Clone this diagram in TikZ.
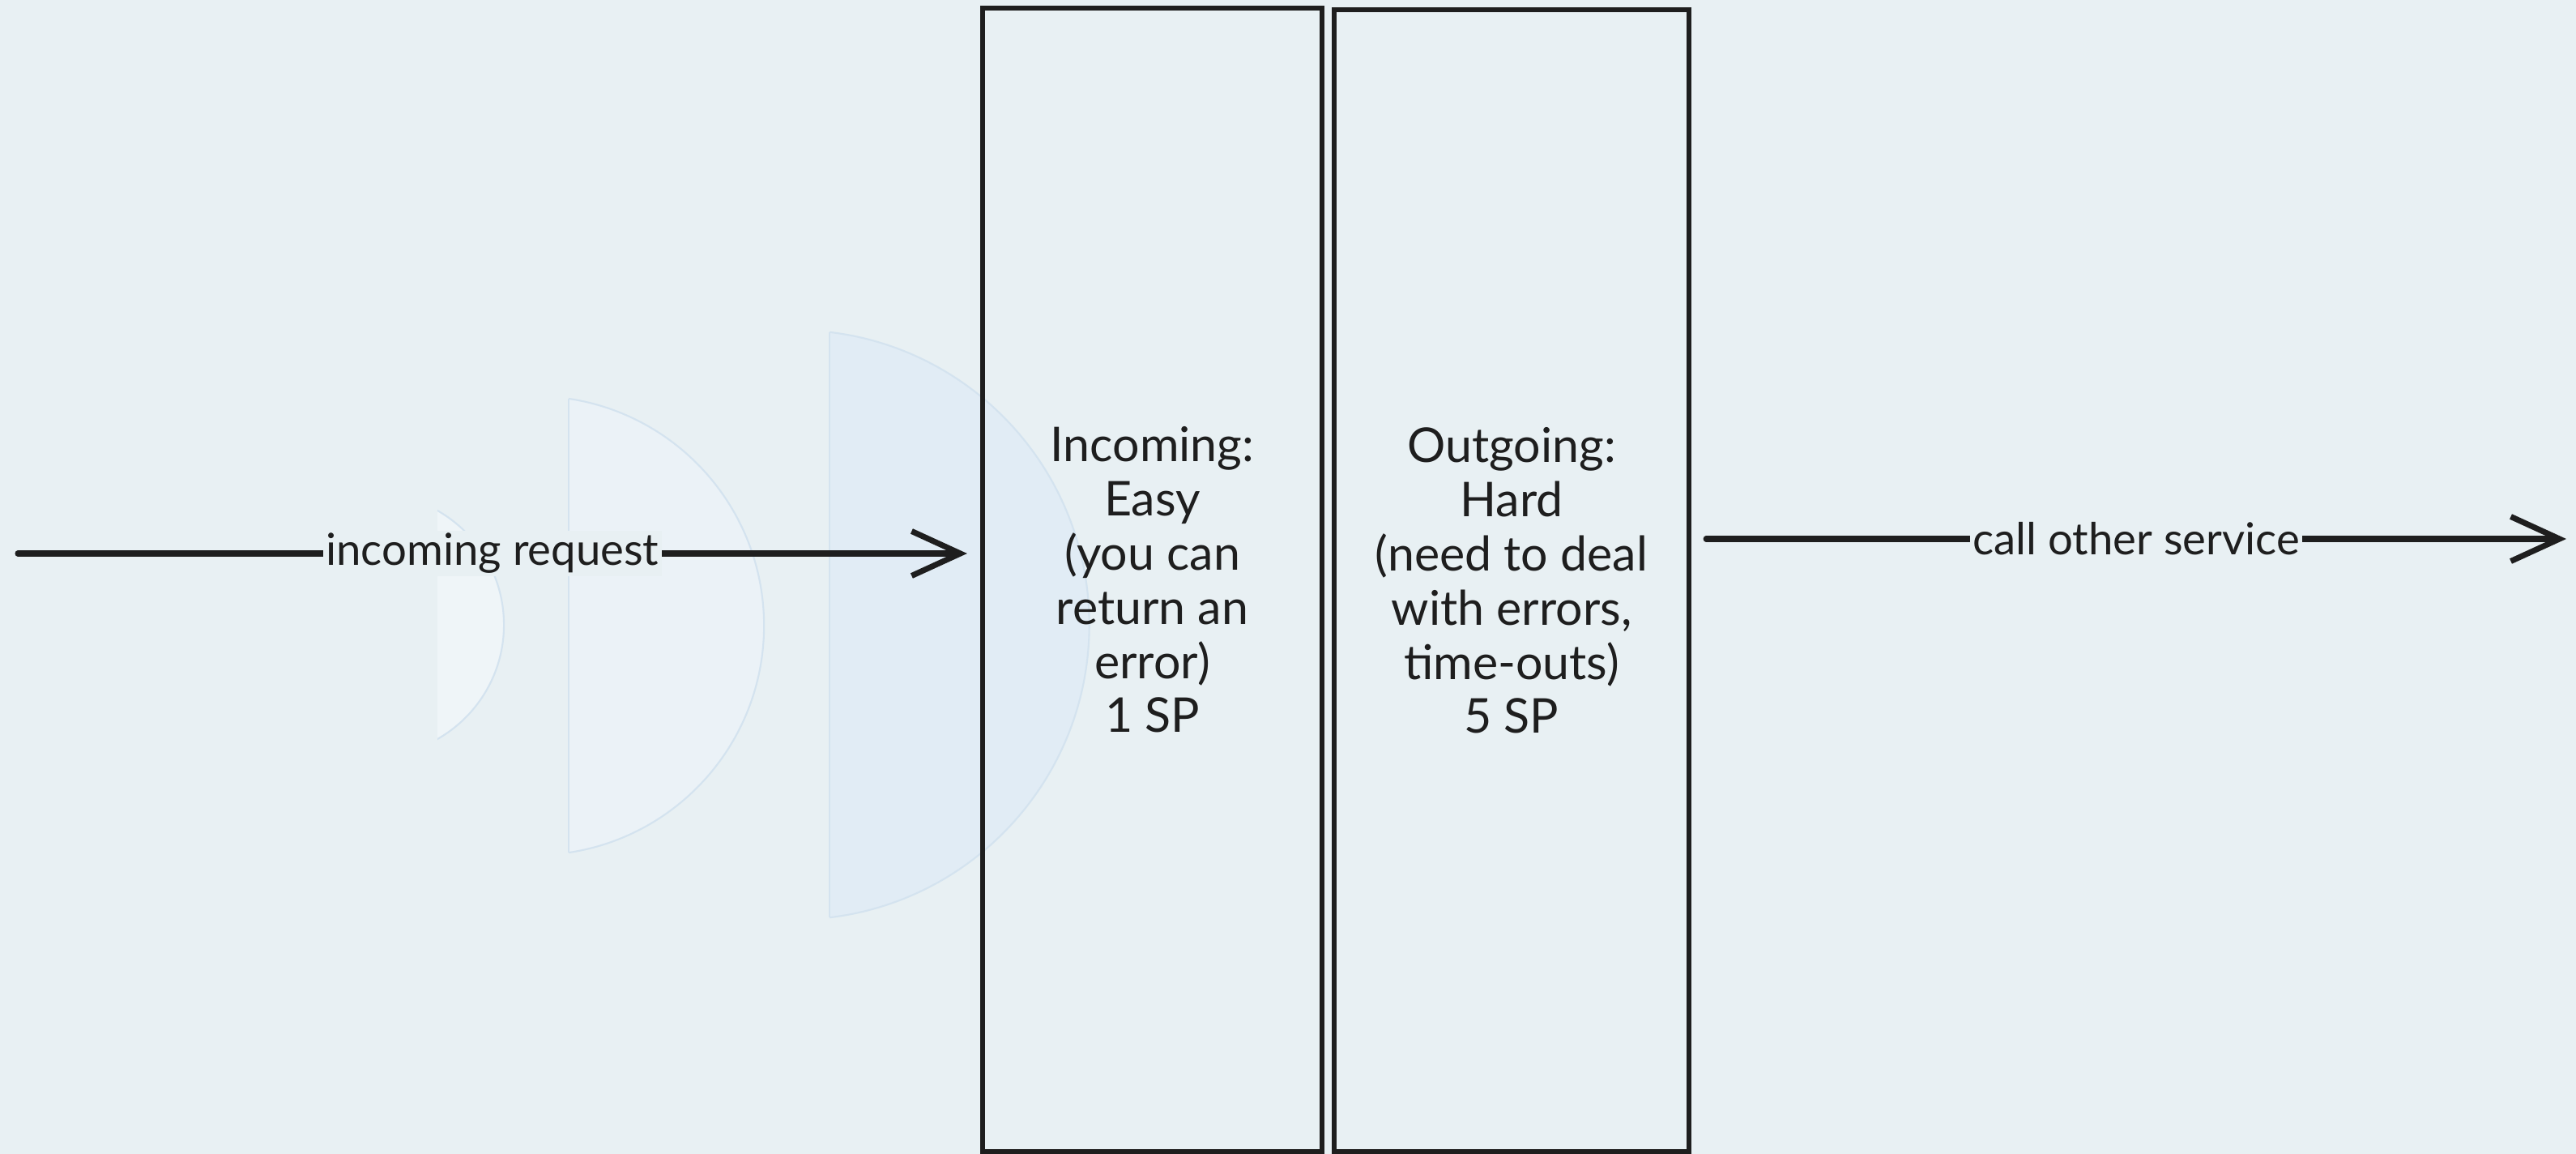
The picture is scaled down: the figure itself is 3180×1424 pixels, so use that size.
\documentclass[tikz,border=0pt]{standalone}
\usepackage{fontspec}
\setmainfont{Lato}
\usetikzlibrary{arrows.meta,calc}
\definecolor{bg}{RGB}{232,240,243}
\definecolor{ink}{RGB}{30,30,30}
\definecolor{bubA}{RGB}{239,245,248}
\definecolor{bubB}{RGB}{235,242,247}
\definecolor{bubC}{RGB}{225,236,245}
\definecolor{bubEdge}{RGB}{212,227,239}
\tikzset{
  txt/.style={font=\fontsize{15.5}{19}\selectfont, text=ink},
  boxtxt/.style={font=\fontsize{16.8}{19}\selectfont, text=ink},
  box/.style={draw=ink, line width=1.7pt, rectangle, inner sep=0pt, align=center, boxtxt},
  conn/.style={draw=ink, line width=2pt, line cap=round,
    -{Straight Barb[length=0.6cm,width=0.55cm,line width=2pt]}},
  lbl/.style={fill=bg, inner sep=1pt, txt},
  bubble/.style={draw=bubEdge, line width=0.6pt}
}
\begin{document}
\begin{tikzpicture}[x=0.01cm,y=-0.01cm]
\fill[bg] (0,0) rectangle (3180,1424);
\useasboundingbox (0,0) rectangle (3180,1424);
% faint half-disc bubbles
\begin{scope}
  \clip (540,600) rectangle (700,950);
  \fill[bubA] (460,771) circle (1.62cm);
  \draw[bubble] (460,771) circle (1.62cm);
\end{scope}
\begin{scope}
  \clip (702,480) rectangle (960,1070);
  \fill[bubB] (660,772) circle (2.83cm);
  \draw[bubble] (660,772) circle (2.83cm);
\end{scope}
\draw[bubEdge, line width=0.4pt] (702,492) -- (702,1052);
\begin{scope}
  \clip (1024,400) rectangle (1360,1140);
  \fill[bubC] (981,771) circle (3.635cm);
  \draw[bubble] (981,771) circle (3.635cm);
\end{scope}
\draw[bubEdge, line width=0.4pt] (1024,410) -- (1024,1132);
% boxes
\node[box, minimum width=4.19cm, minimum height=14.11cm] (inbox) at (1422.5,715.5)
  {Incoming:\\Easy\\(you can\\return an\\error)\\1 SP};
\node[box, minimum width=4.38cm, minimum height=14.09cm] (outbox) at (1866,716.5)
  {Outgoing:\\Hard\\(need to deal\\with errors,\\time-outs)\\5 SP};
% connectors
\coordinate (inStart) at (22,683);
\coordinate (outEnd) at (3168,665);
\draw[conn] (inStart) -- node[lbl]{incoming request} ($(inStart -| inbox.west)+(-16,0)$);
\draw[conn] ($(outEnd -| outbox.east)+(18,0)$) -- node[lbl]{call other service} (outEnd);
\end{tikzpicture}
\end{document}
